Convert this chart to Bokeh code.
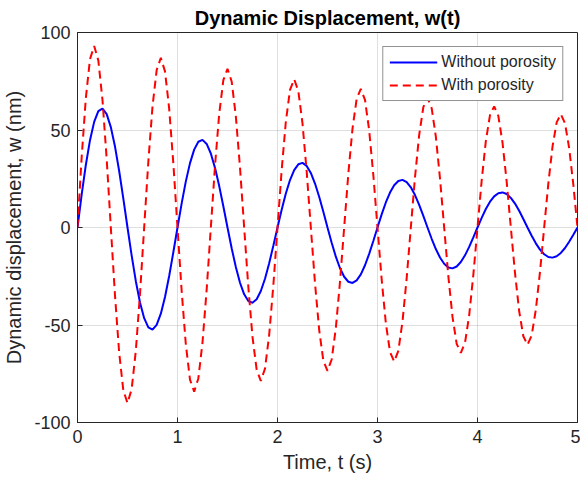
from bokeh.plotting import figure
from bokeh.models import Range1d, FixedTicker, Legend, LegendItem
from bokeh.embed import file_html
from bokeh.resources import INLINE

# ---- data ----
time_s = [
    0, 0.0417, 0.0833, 0.125, 0.1667, 0.2083, 0.25, 0.2917, 0.3333, 0.375, 0.4167, 0.4583,
    0.5, 0.5417, 0.5833, 0.625, 0.6667, 0.7083, 0.75, 0.7917, 0.8333, 0.875, 0.9167, 0.9583,
    1, 1.0417, 1.0833, 1.125, 1.1667, 1.2083, 1.25, 1.2917, 1.3333, 1.375, 1.4167, 1.4583,
    1.5, 1.5417, 1.5833, 1.625, 1.6667, 1.7083, 1.75, 1.7917, 1.8333, 1.875, 1.9167, 1.9583,
    2, 2.0417, 2.0833, 2.125, 2.1667, 2.2083, 2.25, 2.2917, 2.3333, 2.375, 2.4167, 2.4583,
    2.5, 2.5417, 2.5833, 2.625, 2.6667, 2.7083, 2.75, 2.7917, 2.8333, 2.875, 2.9167, 2.9583,
    3, 3.0417, 3.0833, 3.125, 3.1667, 3.2083, 3.25, 3.2917, 3.3333, 3.375, 3.4167, 3.4583,
    3.5, 3.5417, 3.5833, 3.625, 3.6667, 3.7083, 3.75, 3.7917, 3.8333, 3.875, 3.9167, 3.9583,
    4, 4.0417, 4.0833, 4.125, 4.1667, 4.2083, 4.25, 4.2917, 4.3333, 4.375, 4.4167, 4.4583,
    4.5, 4.5417, 4.5833, 4.625, 4.6667, 4.7083, 4.75, 4.7917, 4.8333, 4.875, 4.9167, 4.9583,
    5,
]

w_without_porosity = [
    0, 16.81, 32.07, 44.79, 54.16, 59.64, 60.97, 58.14, 51.47, 41.50, 28.97, 14.81,
    0, -14.44, -27.54, -38.45, -46.50, -51.21, -52.34, -49.92, -44.19, -35.63, -24.87, -12.71,
    0, 12.39, 23.64, 33.01, 39.92, 43.96, 44.94, 42.86, 37.94, 30.59, 21.36, 10.91,
    0, -10.64, -20.30, -28.34, -34.27, -37.74, -38.58, -36.80, -32.57, -26.26, -18.33, -9.37,
    0, 9.14, 17.43, 24.33, 29.42, 32.40, 33.12, 31.59, 27.97, 22.55, 15.74, 8.04,
    0, -7.84, -14.96, -20.89, -25.26, -27.82, -28.44, -27.12, -24.01, -19.36, -13.51, -6.91,
    0, 6.73, 12.84, 17.93, 21.69, 23.88, 24.42, 23.28, 20.61, 16.62, 11.60, 5.93,
    0, -5.78, -11.03, -15.40, -18.62, -20.51, -20.96, -19.99, -17.70, -14.27, -9.96, -5.09,
    0, 4.96, 9.47, 13.22, 15.98, 17.60, 17.99, 17.16, 15.19, 12.25, 8.55, 4.37,
    0, -4.26, -8.13, -11.35, -13.72, -15.11, -15.45, -14.73, -13.04, -10.51, -7.34, -3.75,
    0,
]

w_with_porosity = [
    0, 36.06, 66.36, 86.35, 93.08, 85.65, 65.29, 35.19, 0, -34.90, -64.21, -83.55,
    -90.05, -82.85, -63.14, -34.03, 0, 33.74, 62.07, 80.75, 87.02, 80.05, 61.00, 32.87,
    0, -32.59, -59.98, -78.05, -84.14, -77.42, -59.01, -31.81, 0, 31.55, 58.05, 75.53,
    81.40, 74.89, 57.08, 30.76, 0, -30.50, -56.11, -73.00, -78.66, -72.36, -55.14, -29.71,
    0, 29.46, 54.22, 70.56, 76.06, 69.99, 53.34, 28.75, 0, -28.52, -52.47, -68.27,
    -73.58, -67.69, -51.59, -27.80, 0, 27.57, 50.72, 65.98, 71.11, 65.41, 49.84, 26.86,
    0, -26.63, -49.01, -63.78, -68.75, -63.26, -48.22, -25.99, 0, 25.77, 47.43, 61.71,
    66.51, 61.19, 46.64, 25.14, 0, -24.92, -45.85, -59.65, -64.28, -59.13, -45.06, -24.28,
    0, 24.08, 44.30, 57.65, 62.15, 57.19, 43.59, 23.49, 0, -23.30, -42.87, -55.78,
    -60.13, -55.32, -42.16, -22.72, 0, 22.53, 41.44, 53.92, 58.11, 53.45, 40.73, 21.95,
    0,
]

x_ticks = [0, 1, 2, 3, 4, 5]
y_ticks = [-100, -50, 0, 50, 100]
y_tick_labels = ["-100", "-50", "0", "50", "100"]
series_labels = ["Without porosity", "With porosity"]
title_text = "Dynamic Displacement, w(t)"
x_label = "Time, t (s)"
y_label = "Dynamic displacement, w (nm)"

# ---- styling ----
FONT = "Liberation Sans"
INK = "#262626"

p = figure(width=580, height=481, output_backend="svg", toolbar_location=None,
           x_range=Range1d(0, 5), y_range=Range1d(-100, 100),
           min_border_left=77, min_border_right=3, min_border_top=32, min_border_bottom=59,
           background_fill_color="white", border_fill_color="white")

p.title.text = title_text
p.title.align = "center"
p.title.text_font = FONT
p.title.text_font_size = "20px"
p.title.text_font_style = "bold"
p.title.text_color = "black"
p.title.standoff = 8

for ax in (p.xaxis[0], p.yaxis[0]):
    ax.axis_line_color = INK
    ax.major_tick_line_color = INK
    ax.major_tick_in = 5
    ax.major_tick_out = 0
    ax.minor_tick_line_color = None
    ax.major_label_text_font = FONT
    ax.major_label_text_font_size = "18px"
    ax.major_label_text_color = INK
    ax.axis_label_text_font = FONT
    ax.axis_label_text_font_size = "20px"
    ax.axis_label_text_font_style = "normal"
    ax.axis_label_text_color = INK

p.xaxis.ticker = FixedTicker(ticks=x_ticks)
p.yaxis.ticker = FixedTicker(ticks=y_ticks)
p.yaxis.major_label_overrides = dict(zip(y_ticks, y_tick_labels))
p.xaxis.axis_label = x_label
p.yaxis.axis_label = y_label
p.xaxis.major_label_standoff = 7
p.yaxis.major_label_standoff = 7
p.xaxis.axis_label_standoff = 5
p.yaxis.axis_label_standoff = 6

p.xgrid.ticker = FixedTicker(ticks=x_ticks)
p.ygrid.ticker = FixedTicker(ticks=y_ticks)
p.grid.grid_line_color = INK
p.grid.grid_line_alpha = 0.15

p.outline_line_color = INK
p.outline_line_alpha = 1
p.outline_line_width = 1

r1 = p.line(time_s, w_without_porosity, line_color="#0000FF", line_width=2)
r2 = p.line(time_s, w_with_porosity, line_color="#FF0000", line_width=2, line_dash="8 5")

legend = Legend(items=[LegendItem(label=series_labels[0], renderers=[r1]),
                       LegendItem(label=series_labels[1], renderers=[r2])],
                location="top_right")
legend.margin = 14
legend.padding = 6
legend.spacing = 5
legend.glyph_width = 48
legend.glyph_height = 18
legend.label_height = 18
legend.label_standoff = 4
legend.label_text_font = FONT
legend.label_text_font_size = "16px"
legend.label_text_color = INK
legend.border_line_color = INK
legend.border_line_width = 1
legend.background_fill_color = "white"
legend.background_fill_alpha = 1
p.add_layout(legend)

open("out.html", "w").write(file_html(p, INLINE))
